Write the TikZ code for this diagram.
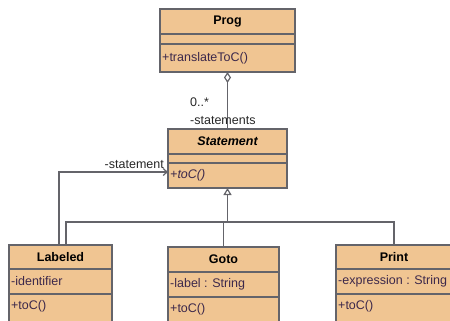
\documentclass[tikz,border=0pt]{standalone}
\usepackage{fontspec}
\setmainfont{Liberation Sans}
\usepackage{xcolor}
\usetikzlibrary{arrows.meta}
\definecolor{peach}{RGB}{240,197,146}
\definecolor{umlgray}{RGB}{100,100,106}
\definecolor{membertext}{RGB}{60,40,75}
\def\compline(#1)(#2){\draw[conn] (#1.west |- 0,#2) -- (#1.east |- 0,#2)}

\begin{document}
\begin{tikzpicture}[x=1pt,y=-1pt,
    classbox/.style={draw=umlgray,fill=peach,line width=1.2pt,inner sep=0pt,outer sep=0pt,anchor=north west},
    title/.style={font=\fontsize{12.5}{14}\selectfont\bfseries,inner sep=0pt},
    member/.style={font=\fontsize{12.5}{14}\selectfont,text=membertext,anchor=west,inner sep=0pt},
    role/.style={font=\fontsize{12.5}{14}\selectfont,text=black!85,inner sep=0pt},
    conn/.style={draw=umlgray,line width=1.2pt}]
        \useasboundingbox (0,0) rectangle (450,321);
        \clip (0,0) rectangle (450,321);

        %%% CLASSES %%%
        \node[classbox,minimum width=135pt,minimum height=63pt] (prog) at (160,9) {};
        \compline(prog)(34);
        \compline(prog)(44);
        \node[title] (progname) at (227.5,21.5) {Prog};
        \node[member] (progop) at (162,58) {+translateToC()};

        \node[classbox,minimum width=119pt,minimum height=59pt] (stmt) at (168,129) {};
        \compline(stmt)(154);
        \compline(stmt)(163);
        \node[title,font=\fontsize{12.5}{14}\selectfont\bfseries\itshape] (stmtname) at (227.5,141.5) {Statement};
        \node[member,font=\fontsize{12.5}{14}\selectfont\itshape] (stmtop) at (170,175.5) {+toC()};

        \node[classbox,minimum width=103pt,minimum height=90pt] (labeled) at (9,245) {};
        \compline(labeled)(269);
        \compline(labeled)(294);
        \node[title] (labeledname) at (60.5,257) {Labeled};
        \node[member] (labeledattr) at (11,281.5) {-identifier};
        \node[member] (labeledop) at (11,306) {+toC()};

        \node[classbox,minimum width=111pt,minimum height=90pt] (goto) at (168,247) {};
        \compline(goto)(272);
        \compline(goto)(297);
        \node[title] (gotoname) at (223.5,259.5) {Goto};
        \node[member] (gotoattr) at (170,284.5) {-label : String};
        \node[member] (gotoop) at (170,309) {+toC()};

        \node[classbox,minimum width=130pt,minimum height=90pt] (print) at (336,245) {};
        \compline(print)(269);
        \compline(print)(294);
        \node[title] (printname) at (394,257) {Print};
        \node[member] (printattr) at (338,281.5) {-expression : String};
        \node[member] (printop) at (338,306) {+toC()};

        %%% AGGREGATION %%%
        \draw[conn,{Diamond[open,length=11pt,width=7pt]}-] (prog.south) -- (stmt.north);
        \node[role,anchor=west] (mult) at (190,102) {0..*};
        \node[role,anchor=west] (stmtsrole) at (190,121) {-statements};

        %%% GENERALIZATION %%%
        \coordinate (busW) at (66,222);
        \coordinate (busE) at (394,222);
        \draw[conn,-{Triangle[open,length=7pt,width=8pt]}] (stmt.south |- busW) -- (stmt.south);
        \draw[conn] (labeled.north -| busW) |- (busE) -- (print.north -| busE);
        \draw[conn] (goto.north) -- (goto.north |- busW);

        %%% ASSOCIATION %%%
        \draw[conn,-{Straight Barb[length=4pt,width=7pt]}] ([xshift=-1.5pt]labeled.north) |- ([yshift=16pt]stmt.south west);
        \node[role,anchor=east] (stmtrole) at (164,165) {-statement};
\end{tikzpicture}
\end{document}
